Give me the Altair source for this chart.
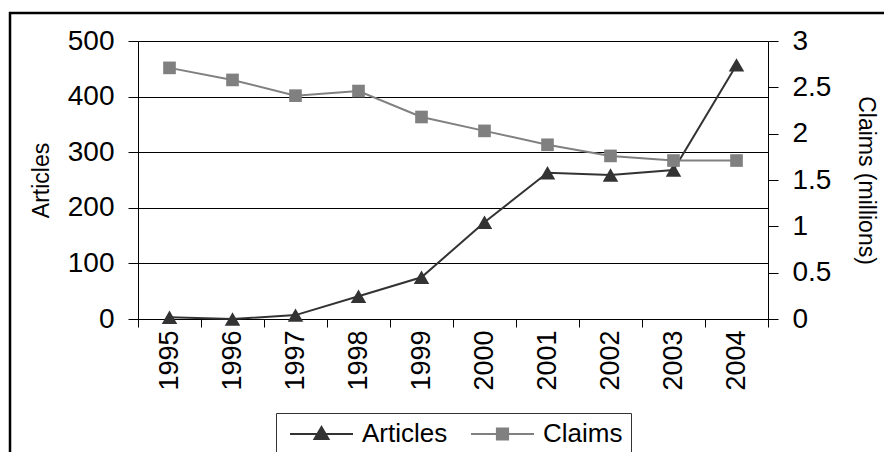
import altair as alt
import pandas as pd

# ---- data ----
years = ["1995", "1996", "1997", "1998", "1999", "2000", "2001", "2002", "2003", "2004"]
articles = [3, 0, 7, 41, 75, 174, 263, 259, 268, 457]
claims = [2.71, 2.58, 2.41, 2.46, 2.18, 2.03, 1.88, 1.76, 1.71, 1.71]
series_names = ["Articles", "Claims"]
series_colors = ["#333333", "#808080"]
articles_ticks = [0, 100, 200, 300, 400, 500]
claims_ticks = [0, 0.5, 1, 1.5, 2, 2.5, 3]

df = pd.DataFrame({"year": years, "Articles": articles, "Claims": claims})
legend_df = pd.DataFrame({"series": series_names})
frame_df = pd.DataFrame({"k": [0]})

FONT = "Liberation Sans"
W, H = 630, 278

x_enc = alt.X(
    "year:O",
    sort=years,
    bandPosition=0.5,
    scale=alt.Scale(type="band", paddingInner=0, paddingOuter=0),
    axis=alt.Axis(
        title=None, labelAngle=-90, tickBand="extent", tickSize=8,
        labelPadding=3, labelFontSize=27, labelFont=FONT, labelColor="#000",
        domainColor="#000", tickColor="#000", domainWidth=1, tickWidth=1,
    ),
)

y_art = alt.Y(
    "Articles:Q",
    scale=alt.Scale(domain=[0, 500], nice=False),
    axis=alt.Axis(
        orient="left", values=articles_ticks, grid=True, gridColor="#000",
        gridWidth=1, gridOpacity=1, tickSize=10, labelPadding=14,
        labelFontSize=28, labelFont=FONT, labelColor="#000",
        domainColor="#000", tickColor="#000",
        title="Articles", titleFont=FONT, titleFontSize=23,
        titleFontWeight="normal", titleColor="#000",
        titleAngle=270, titleBaseline="alphabetic", titleX=-90, titleY=H / 2,
    ),
)

y_cla = alt.Y(
    "Claims:Q",
    scale=alt.Scale(domain=[0, 3], nice=False),
    axis=alt.Axis(
        orient="right", values=claims_ticks, format="~g", grid=False,
        tickSize=10, labelPadding=14, labelFontSize=28, labelFont=FONT,
        labelColor="#000", domainColor="#000", tickColor="#000",
        title="Claims (millions)", titleFont=FONT, titleFontSize=23,
        titleFontWeight="normal", titleColor="#000",
        titleAngle=90, titleBaseline="alphabetic", titleX=90, titleY=H / 2,
    ),
)

base = alt.Chart(df)

art_line = base.mark_line(color=series_colors[0], strokeWidth=2).encode(x=x_enc, y=y_art)
art_pts = base.mark_point(shape="triangle-up", filled=True, size=240,
                          color=series_colors[0], opacity=1).encode(x=x_enc, y=y_art)
art_layer = alt.layer(art_line, art_pts)

cla_line = base.mark_line(color=series_colors[1], strokeWidth=2).encode(x=x_enc, y=y_cla)
cla_pts = base.mark_point(shape="square", filled=True, size=160,
                          color=series_colors[1], opacity=1).encode(x=x_enc, y=y_cla)
cla_layer = alt.layer(cla_line, cla_pts)

# legend symbols: line with marker in the middle
tri_path = "M-1,0H8M3.5,-1.0L4.5,0.72L2.5,0.72Z"
sq_path = "M-1,0H8M2.7,-0.8H4.3V0.8H2.7Z"

leg = alt.Legend(
    title=None, orient="none", legendX=138, legendY=372, direction="horizontal",
    labelFont=FONT, labelFontSize=26, labelColor="#000", labelOffset=52,
    columnPadding=17, padding=8, strokeColor="#333", fillColor="white",
    symbolSize=196, symbolStrokeWidth=2,
)
legend_layer = alt.Chart(legend_df).transform_filter("false").mark_point(
    filled=True, size=196, strokeWidth=2, opacity=1
).encode(
    fill=alt.Fill("series:N", scale=alt.Scale(domain=series_names, range=series_colors), legend=leg),
    stroke=alt.Stroke("series:N", scale=alt.Scale(domain=series_names, range=series_colors), legend=leg),
    shape=alt.Shape("series:N", scale=alt.Scale(domain=series_names, range=[tri_path, sq_path]), legend=leg),
)

frame = alt.Chart(frame_df).mark_rect(
    fill="white", fillOpacity=0, stroke="#000", strokeWidth=2.5
).encode(
    x=alt.value(-128), x2=alt.value(1200), y=alt.value(-28), y2=alt.value(1200)
)

chart = (
    alt.layer(frame, art_layer, cla_layer, legend_layer)
    .resolve_scale(y="independent")
    .properties(
        width=W, height=H,
        autosize=alt.AutoSizeParams(type="none"),
        padding={"left": 130, "top": 33, "right": 116, "bottom": 133},
        background="white",
    )
    .configure_view(strokeWidth=0)
)

chart.save("out.html", embed_options={"renderer": "svg", "actions": False})
